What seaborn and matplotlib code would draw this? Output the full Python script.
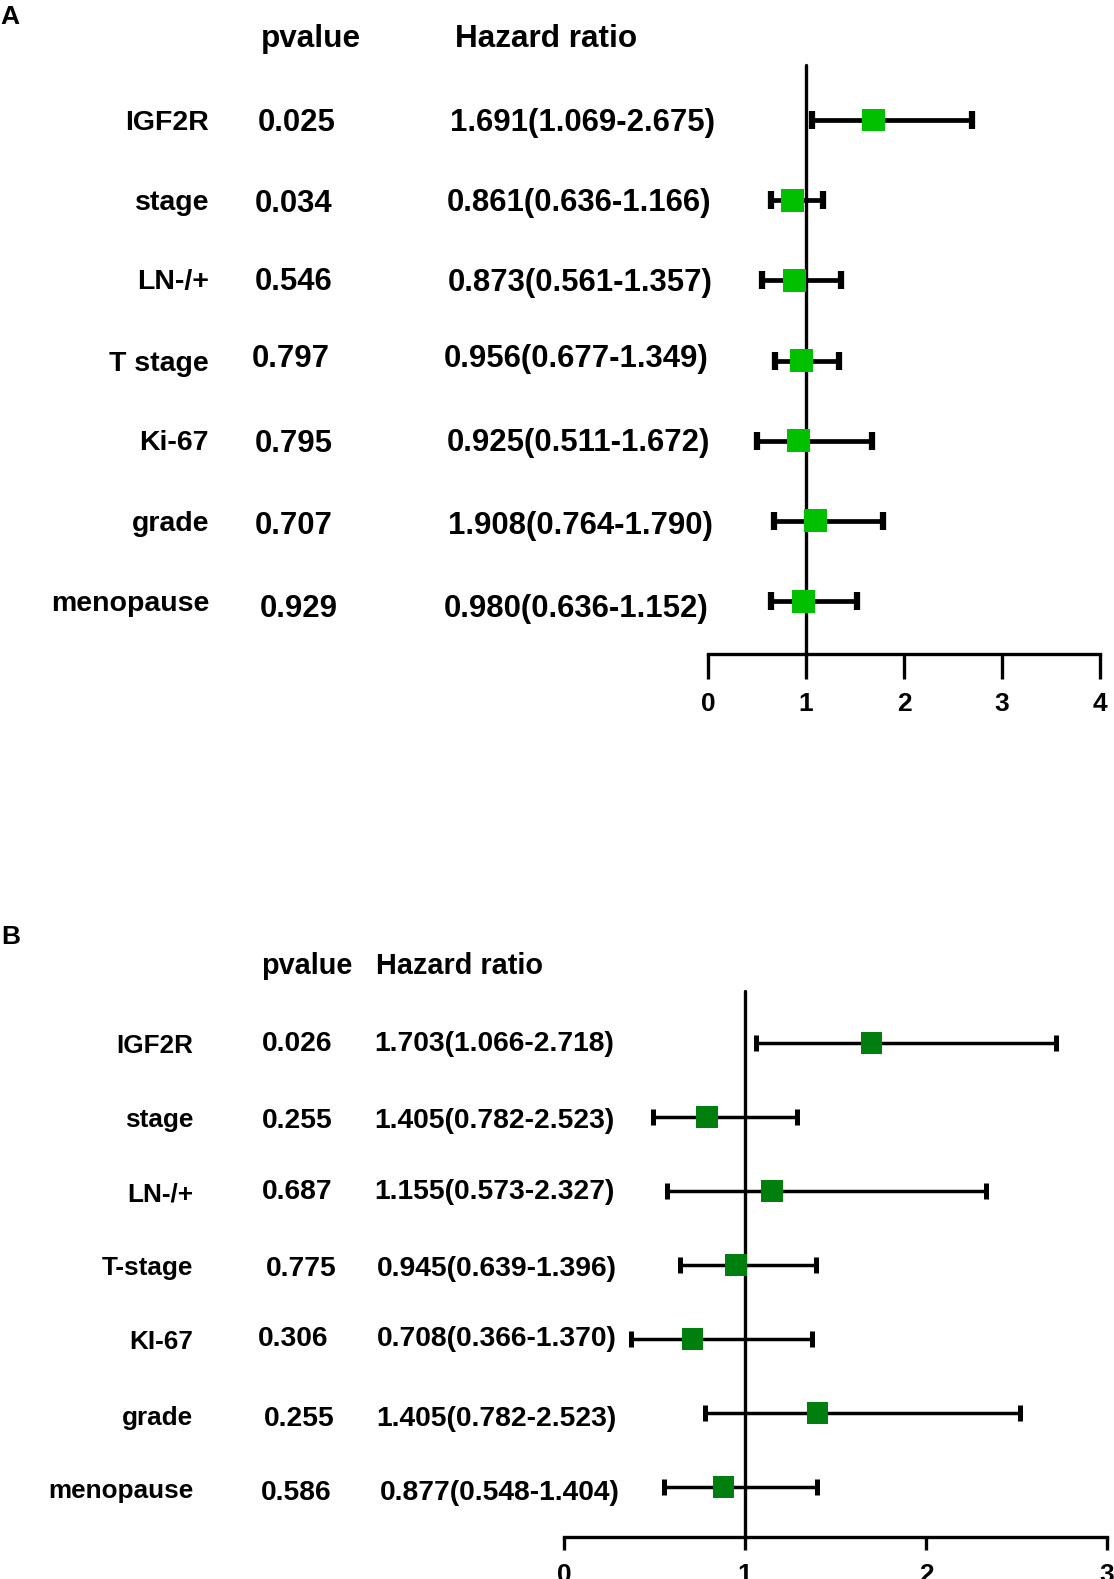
import numpy as np
import matplotlib
matplotlib.use("Agg")
import matplotlib.pyplot as plt
import seaborn as sns
import pandas as pd

# ---- data ----
variables_a = ['IGF2R', 'stage', 'LN-/+', 'T stage', 'Ki-67', 'grade', 'menopause']
pvalues_a = ['0.025', '0.034', '0.546', '0.797', '0.795', '0.707', '0.929']
hr_text_a = ['1.691(1.069-2.675)', '0.861(0.636-1.166)', '0.873(0.561-1.357)',
             '0.956(0.677-1.349)', '0.925(0.511-1.672)', '1.908(0.764-1.790)',
             '0.980(0.636-1.152)']
hr_a = [1.69, 0.86, 0.88, 0.95, 0.92, 1.10, 0.97]
lo_a = [1.06, 0.64, 0.55, 0.68, 0.50, 0.67, 0.64]
hi_a = [2.69, 1.17, 1.36, 1.34, 1.67, 1.79, 1.52]

variables_b = ['IGF2R', 'stage', 'LN-/+', 'T-stage', 'KI-67', 'grade', 'menopause']
pvalues_b = ['0.026', '0.255', '0.687', '0.775', '0.306', '0.255', '0.586']
hr_text_b = ['1.703(1.066-2.718)', '1.405(0.782-2.523)', '1.155(0.573-2.327)',
             '0.945(0.639-1.396)', '0.708(0.366-1.370)', '1.405(0.782-2.523)',
             '0.877(0.548-1.404)']
hr_b = [1.70, 0.79, 1.15, 0.95, 0.71, 1.40, 0.88]
lo_b = [1.06, 0.49, 0.57, 0.64, 0.37, 0.78, 0.55]
hi_b = [2.72, 1.29, 2.33, 1.39, 1.37, 2.52, 1.40]

W, H = 1114, 1579
sns.set_style("white")
plt.rcParams['font.family'] = ['Liberation Sans', 'DejaVu Sans']
plt.rcParams['font.weight'] = 'bold'
plt.rcParams['text.color'] = 'black'

fig = plt.figure(figsize=(W / 100, H / 100), dpi=100)


def fx(x):
    return x / W


def fy(y):
    return 1 - y / H


def put(x, y, s, size, ha='left'):
    # y is the centre of the digits, the bbox centre sits a bit lower
    fig.text(fx(x), fy(y + 3), s, fontsize=size, fontweight='bold', ha=ha, va='center',
             color='black')


def forest(left, right, top, bottom, xmax, ylim, hr, lo, hi, color, lw, capw, cap, msize,
           tlen, tpad, tsize):
    ax = fig.add_axes([fx(left), fy(bottom), fx(right) - fx(left), fy(top) - fy(bottom)])
    df = pd.DataFrame({'row': np.arange(len(hr)), 'hr': hr, 'lo': lo, 'hi': hi})
    ax.errorbar(df['hr'], df['row'], xerr=[df['hr'] - df['lo'], df['hi'] - df['hr']],
                fmt='none', ecolor='black', elinewidth=lw, capsize=cap, capthick=capw, zorder=2)
    ax.axvline(1, color='black', lw=2.4, zorder=1)
    sns.scatterplot(data=df, x='hr', y='row', marker='s', s=msize ** 2, color=color,
                    edgecolor='none', ax=ax, zorder=3, legend=False)
    ax.set_xlim(0, xmax)
    ax.set_ylim(*ylim)
    for sp in ['left', 'right', 'top']:
        ax.spines[sp].set_visible(False)
    ax.spines['bottom'].set_linewidth(2.4)
    ax.spines['bottom'].set_color('black')
    ax.set_xticks(range(xmax + 1))
    ax.tick_params(axis='x', direction='out', length=tlen, width=2.4, pad=tpad,
                   labelsize=tsize, bottom=True, colors='black')
    for t in ax.get_xticklabels():
        t.set_fontweight('bold')
    ax.set_yticks([])
    ax.set_xlabel('')
    ax.set_ylabel('')
    for child in ax.get_children():
        child.set_clip_on(False)
    return ax


# ---- panel A ----
forest(708, 1100, 65, 654, 4, (6.66, -0.686), hr_a, lo_a, hi_a,
       '#00c000', 3.4, 4.5, 6.5, 16.5, 18, 9, 19)

put(10, 14, 'A', 19, ha='center')
put(261, 36, 'pvalue', 22.7)
put(455, 36, 'Hazard ratio', 22.7)
label_y_a = [120, 200.5, 279.5, 361, 440.5, 521, 601]
p_x_a = [258, 255, 255, 252, 255, 255, 260]
p_y_a = [120, 200.5, 279.5, 356, 440.5, 523, 606]
hr_x_a = [450, 447, 448, 444, 447, 448, 444]
for i in range(len(variables_a)):
    put(209, label_y_a[i], variables_a[i], 20.5, ha='right')
    put(p_x_a[i], p_y_a[i], pvalues_a[i], 22.4)
    put(hr_x_a[i], p_y_a[i], hr_text_a[i], 22.4)

# ---- panel B ----
forest(564, 1107, 991, 1537, 3, (6.676, -0.70), hr_b, lo_b, hi_b,
       '#007f0e', 2.5, 3.6, 5.8, 15.5, 9.4, 9.4, 19)

put(11, 934, 'B', 19, ha='center')
put(261, 963, 'pvalue', 20.8)
put(376, 963, 'Hazard ratio', 20.8)
label_y_b = [1043, 1117.5, 1191, 1265.5, 1339, 1414.5, 1488]
p_x_b = [262, 262, 262, 266, 258, 264, 261]
p_y_b = [1041, 1117.5, 1189, 1265.5, 1336, 1415.5, 1490]
hr_x_b = [374, 374, 374, 377, 377, 376, 380]
for i in range(len(variables_b)):
    put(193, label_y_b[i], variables_b[i], 18.8, ha='right')
    put(p_x_b[i], p_y_b[i], pvalues_b[i], 20.3)
    put(hr_x_b[i], p_y_b[i], hr_text_b[i], 20.3)

fig.savefig('out.png', dpi=100)
